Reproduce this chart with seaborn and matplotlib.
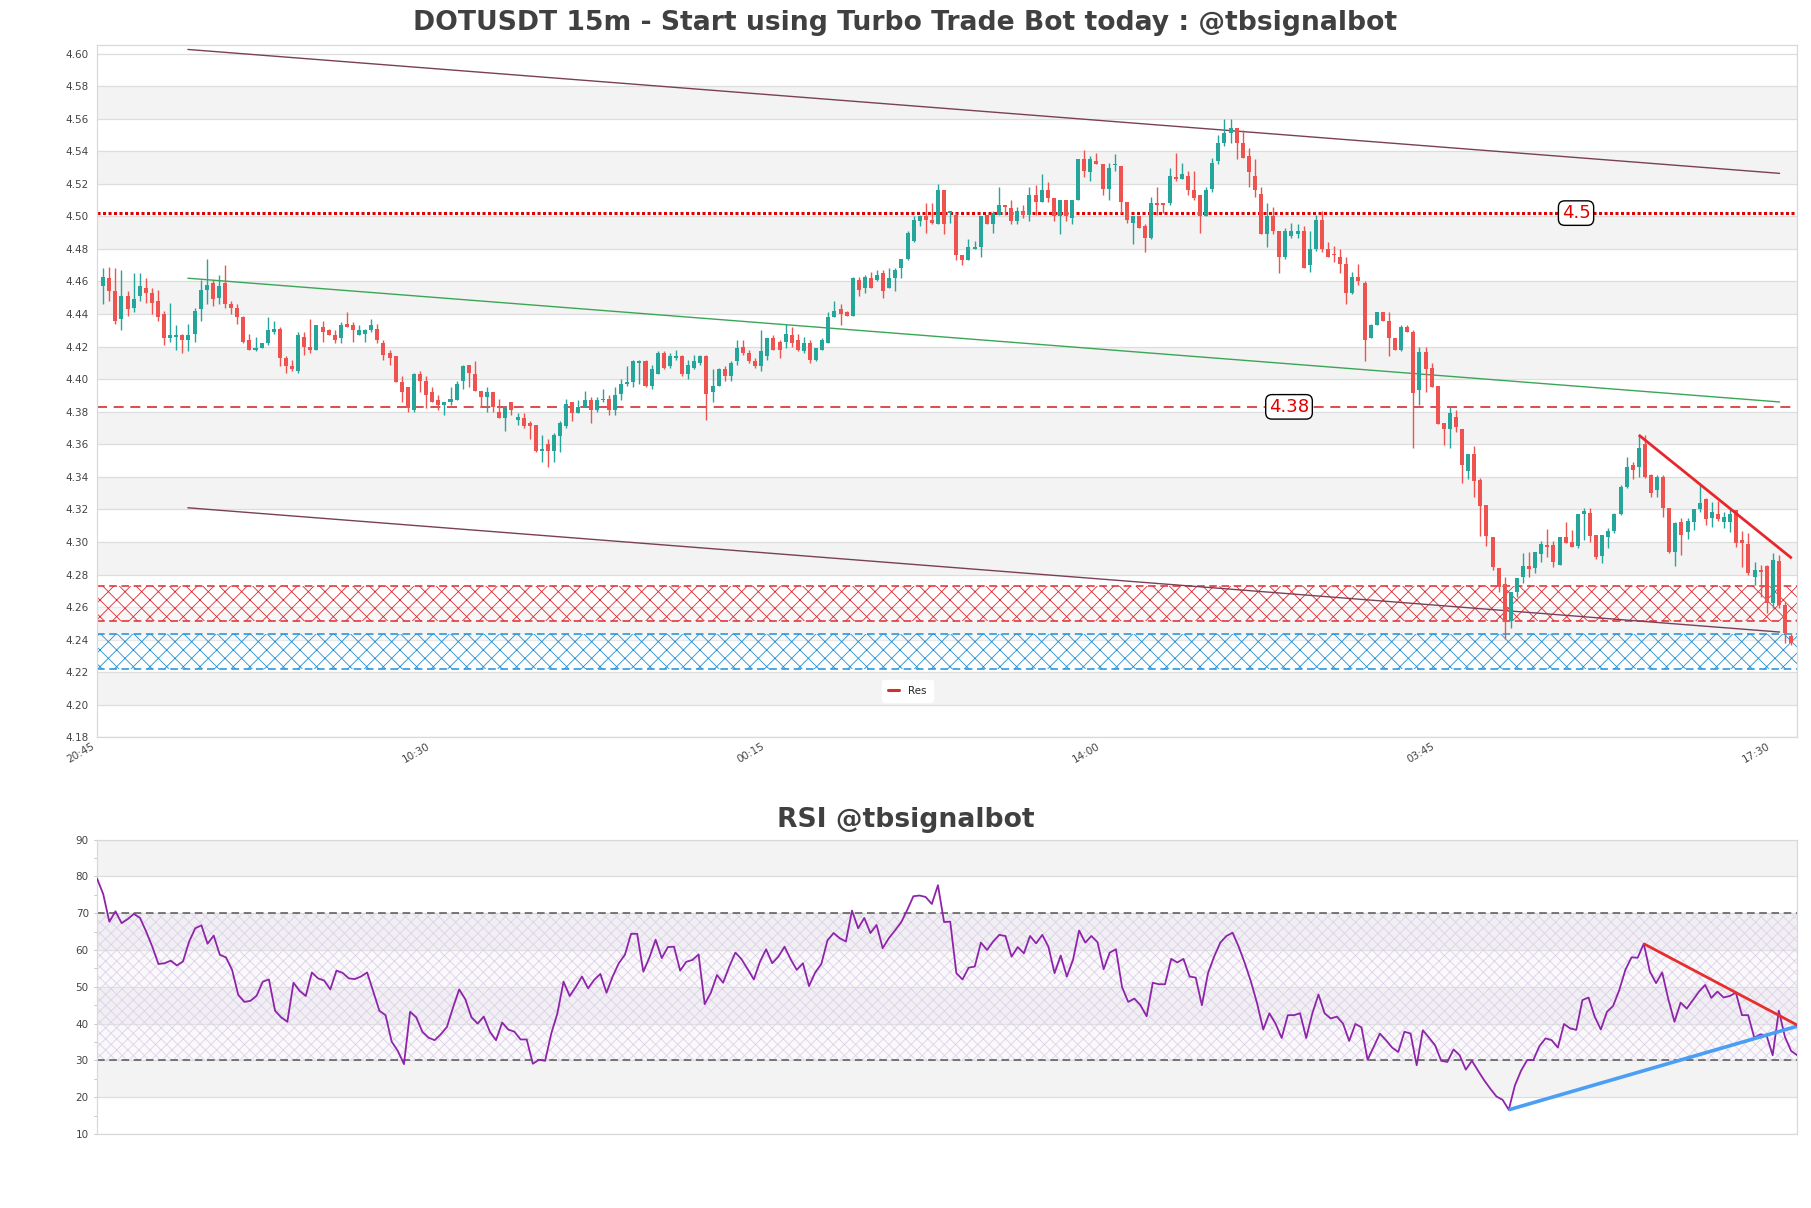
import numpy as np
import pandas as pd
import matplotlib
matplotlib.use("Agg")
import matplotlib.pyplot as plt
from matplotlib.lines import Line2D
from matplotlib.ticker import MultipleLocator
from matplotlib.transforms import ScaledTranslation
import seaborn as sns

# ---------------- data ----------------
opens = [4.457, 4.462, 4.454, 4.437, 4.451, 4.444, 4.451, 4.456, 4.453, 4.448,
         4.440, 4.425, 4.426, 4.427, 4.424, 4.428, 4.443, 4.455, 4.459, 4.450,
         4.459, 4.446, 4.444, 4.438, 4.424, 4.418, 4.419, 4.422, 4.429, 4.431,
         4.413, 4.408, 4.405, 4.426, 4.420, 4.418, 4.432, 4.430, 4.427, 4.425,
         4.434, 4.433, 4.427, 4.428, 4.430, 4.431, 4.422, 4.416, 4.414, 4.398,
         4.395, 4.381, 4.403, 4.399, 4.392, 4.387, 4.384, 4.386, 4.387, 4.399,
         4.409, 4.403, 4.393, 4.389, 4.392, 4.380, 4.376, 4.386, 4.375, 4.376,
         4.373, 4.372, 4.356, 4.360, 4.356, 4.365, 4.371, 4.386, 4.379, 4.383,
         4.387, 4.381,
         4.387, 4.388, 4.381, 4.391, 4.397, 4.398, 4.410, 4.411,
         4.396, 4.403, 4.416, 4.408, 4.413, 4.414, 4.403, 4.407, 4.410, 4.414,
         4.392, 4.396, 4.406, 4.402, 4.411, 4.420, 4.416, 4.411, 4.408, 4.414,
         4.425, 4.423, 4.423, 4.427, 4.424, 4.417, 4.422, 4.412, 4.418, 4.422,
         4.438, 4.443, 4.441, 4.439, 4.461, 4.456, 4.462, 4.461, 4.465, 4.456,
         4.462, 4.468, 4.474, 4.485, 4.497, 4.500, 4.498, 4.495, 4.516, 4.502,
         4.501, 4.476, 4.473, 4.480, 4.481, 4.501, 4.495, 4.501, 4.507, 4.505,
         4.497, 4.503, 4.501, 4.513, 4.509, 4.516, 4.511, 4.500, 4.510, 4.499,
         4.510, 4.535, 4.527, 4.534, 4.532, 4.517, 4.5315, 4.531, 4.509, 4.496,
         4.500, 4.494, 4.487, 4.508, 4.508, 4.508, 4.524, 4.523, 4.525, 4.516,
         4.513, 4.500, 4.517, 4.534, 4.545, 4.551, 4.554, 4.545, 4.537, 4.525,
         4.514, 4.489, 4.500, 4.491, 4.475, 4.488, 4.489, 4.491, 4.470, 4.480,
         4.498, 4.480, 4.477, 4.475, 4.471, 4.453, 4.463, 4.459, 4.425, 4.433,
         4.441, 4.436, 4.425, 4.418, 4.432, 4.429, 4.3933, 4.4168, 4.4066, 4.3958,
         4.3728, 4.3692, 4.3765, 4.3692, 4.3438, 4.354, 4.338, 4.3227, 4.3028, 4.2842,
         4.2742, 4.2516, 4.2695, 4.2787, 4.2852, 4.2838, 4.2926, 4.2981, 4.2981, 4.2858,
         4.3028, 4.2998, 4.2975, 4.317, 4.3176, 4.3043, 4.2914, 4.3028, 4.3067, 4.3172,
         4.3335, 4.3472, 4.3458, 4.3601, 4.3411, 4.3319, 4.3401, 4.3206, 4.294, 4.3124,
         4.3059, 4.3124, 4.32, 4.3262, 4.3145, 4.3172, 4.3124, 4.3124, 4.3196, 4.3012,
         4.2987, 4.2787, 4.2828, 4.2852, 4.2623, 4.2885, 4.2613, 4.2422]

highs = [4.468, 4.469, 4.468, 4.467, 4.454, 4.465, 4.465, 4.462, 4.456, 4.455,
         4.442, 4.447, 4.433, 4.428, 4.434, 4.444, 4.461, 4.474, 4.461, 4.464,
         4.470, 4.448, 4.446, 4.439, 4.428, 4.426, 4.422, 4.438, 4.436, 4.432,
         4.414, 4.412, 4.429, 4.429, 4.437, 4.433, 4.436, 4.431, 4.430, 4.435,
         4.441, 4.435, 4.433, 4.431, 4.437, 4.434, 4.424, 4.418, 4.414, 4.402,
         4.395, 4.404, 4.405, 4.402, 4.395, 4.390, 4.386, 4.395, 4.399, 4.409,
         4.409, 4.411, 4.393, 4.395, 4.392, 4.388, 4.383, 4.386, 4.379, 4.379,
         4.374, 4.372, 4.366, 4.363, 4.367, 4.374, 4.388, 4.386, 4.387, 4.393,
         4.389, 4.389,
         4.394, 4.390, 4.395, 4.400, 4.408, 4.412, 4.412, 4.412,
         4.409, 4.417, 4.417, 4.416, 4.418, 4.415, 4.412, 4.415, 4.415, 4.415,
         4.406, 4.407, 4.408, 4.411, 4.424, 4.424, 4.418, 4.413, 4.430, 4.425,
         4.427, 4.424, 4.434, 4.432, 4.428, 4.426, 4.424, 4.419, 4.425, 4.441,
         4.448, 4.446, 4.442, 4.463, 4.463, 4.464, 4.466, 4.467, 4.467, 4.468,
         4.468, 4.474, 4.491, 4.500, 4.501, 4.508, 4.508, 4.520, 4.516, 4.503,
         4.502, 4.476, 4.486, 4.485, 4.500, 4.501, 4.503, 4.518, 4.507, 4.510,
         4.506, 4.507, 4.518, 4.519, 4.526, 4.521, 4.511, 4.510, 4.510, 4.510,
         4.535, 4.541, 4.537, 4.539, 4.532, 4.533, 4.538, 4.531, 4.509, 4.500,
         4.500, 4.495, 4.512, 4.518, 4.508, 4.530, 4.539, 4.533, 4.528, 4.528,
         4.513, 4.518, 4.536, 4.550, 4.560, 4.560, 4.554, 4.553, 4.542, 4.535,
         4.518, 4.508, 4.506, 4.491, 4.493, 4.496, 4.495, 4.494, 4.491, 4.501,
         4.503, 4.484, 4.482, 4.480, 4.475, 4.466, 4.471, 4.460, 4.434, 4.441,
         4.441, 4.441, 4.425, 4.433, 4.433, 4.430, 4.4199, 4.4199, 4.4097, 4.3958,
         4.3728, 4.3827, 4.381, 4.3692, 4.354, 4.3589, 4.3391, 4.3227, 4.3028, 4.2842,
         4.2787, 4.2695, 4.2776, 4.2934, 4.294, 4.294, 4.3008, 4.3077, 4.3008, 4.3028,
         4.312, 4.3073, 4.3172, 4.3206, 4.3206, 4.3043, 4.3043, 4.3084, 4.3176, 4.335,
         4.352, 4.3493, 4.3657, 4.3657, 4.3417, 4.3411, 4.3411, 4.3206, 4.3124, 4.3145,
         4.3145, 4.32, 4.335, 4.3268, 4.3247, 4.3251, 4.3186, 4.32, 4.3196, 4.3069,
         4.3057, 4.2879, 4.2858, 4.2858, 4.293, 4.292, 4.2633, 4.2439]

lows = [4.446, 4.448, 4.434, 4.430, 4.439, 4.441, 4.448, 4.447, 4.440, 4.436,
        4.421, 4.423, 4.418, 4.416, 4.417, 4.423, 4.436, 4.446, 4.445, 4.446,
        4.444, 4.440, 4.434, 4.422, 4.418, 4.417, 4.419, 4.421, 4.428, 4.408,
        4.404, 4.405, 4.404, 4.415, 4.416, 4.418, 4.423, 4.427, 4.422, 4.422,
        4.432, 4.423, 4.427, 4.423, 4.429, 4.422, 4.412, 4.409, 4.398, 4.386,
        4.380, 4.380, 4.392, 4.382, 4.386, 4.381, 4.378, 4.384, 4.387, 4.394,
        4.395, 4.393, 4.383, 4.380, 4.380, 4.376, 4.368, 4.378, 4.372, 4.370,
        4.363, 4.355, 4.349, 4.346, 4.349, 4.355, 4.370, 4.374, 4.379, 4.383,
        4.373, 4.380,
        4.386, 4.378, 4.378, 4.387, 4.396, 4.395, 4.397, 4.395,
        4.394, 4.403, 4.406, 4.407, 4.412, 4.402, 4.400, 4.406, 4.409, 4.375,
        4.386, 4.396, 4.399, 4.399, 4.409, 4.415, 4.410, 4.407, 4.405, 4.412,
        4.418, 4.413, 4.419, 4.420, 4.417, 4.416, 4.410, 4.411, 4.418, 4.422,
        4.438, 4.433, 4.439, 4.439, 4.451, 4.453, 4.456, 4.460, 4.450, 4.456,
        4.454, 4.462, 4.473, 4.484, 4.494, 4.490, 4.495, 4.495, 4.489, 4.496,
        4.473, 4.470, 4.473, 4.480, 4.475, 4.495, 4.490, 4.501, 4.501, 4.495,
        4.495, 4.499, 4.497, 4.501, 4.509, 4.509, 4.497, 4.489, 4.497, 4.495,
        4.510, 4.524, 4.522, 4.532, 4.513, 4.510, 4.528, 4.502, 4.496, 4.483,
        4.493, 4.478, 4.486, 4.501, 4.502, 4.507, 4.522, 4.523, 4.513, 4.510,
        4.490, 4.500, 4.515, 4.532, 4.543, 4.545, 4.535, 4.536, 4.518, 4.512,
        4.489, 4.481, 4.489, 4.465, 4.474, 4.487, 4.487, 4.468, 4.466, 4.479,
        4.478, 4.475, 4.472, 4.465, 4.446, 4.452, 4.458, 4.411, 4.425, 4.433,
        4.436, 4.414, 4.418, 4.417, 4.429, 4.3575, 4.3841, 4.3923, 4.3954, 4.3724,
        4.3595, 4.3575, 4.3677, 4.336, 4.3386, 4.3278, 4.3038, 4.2975, 4.2828, 4.2695,
        4.2402, 4.2469, 4.2664, 4.2746, 4.2787, 4.2807, 4.2879, 4.291, 4.2848, 4.2858,
        4.2996, 4.2967, 4.2961, 4.3012, 4.2998, 4.2895, 4.2869, 4.2961, 4.3053, 4.3165,
        4.3329, 4.3387, 4.3401, 4.3391, 4.3278, 4.3278, 4.3155, 4.293, 4.2854, 4.292,
        4.3016, 4.3073, 4.3186, 4.3104, 4.3094, 4.3131, 4.3084, 4.3063, 4.2971, 4.2848,
        4.2797, 4.2736, 4.2664, 4.2562, 4.2592, 4.2592, 4.2377, 4.2367]

closes = [4.463, 4.454, 4.436, 4.451, 4.443, 4.449, 4.457, 4.453, 4.447, 4.438,
          4.425, 4.427, 4.427, 4.424, 4.427, 4.442, 4.455, 4.458, 4.449, 4.457,
          4.446, 4.444, 4.438, 4.423, 4.418, 4.419, 4.422, 4.430, 4.431, 4.413,
          4.408, 4.406, 4.427, 4.420, 4.418, 4.433, 4.429, 4.427, 4.424, 4.433,
          4.432, 4.430, 4.430, 4.430, 4.433, 4.424, 4.415, 4.413, 4.398, 4.392,
          4.382, 4.403, 4.399, 4.390, 4.386, 4.384, 4.386, 4.388, 4.397, 4.408,
          4.404, 4.393, 4.389, 4.392, 4.383, 4.376, 4.383, 4.381, 4.377, 4.371,
          4.371, 4.356, 4.357, 4.356, 4.366, 4.373, 4.385, 4.379, 4.383, 4.387,
          4.381, 4.387,
          4.388, 4.381, 4.390, 4.397, 4.398, 4.411, 4.411, 4.396,
          4.406, 4.416, 4.407, 4.414, 4.414, 4.403, 4.409, 4.411, 4.414, 4.391,
          4.396, 4.406, 4.402, 4.410, 4.419, 4.416, 4.411, 4.408, 4.417, 4.425,
          4.418, 4.418, 4.428, 4.422, 4.418, 4.422, 4.412, 4.419, 4.424, 4.438,
          4.442, 4.440, 4.439, 4.462, 4.455, 4.463, 4.456, 4.464, 4.454, 4.462,
          4.467, 4.474, 4.490, 4.498, 4.500, 4.498, 4.496, 4.516, 4.495, 4.503,
          4.476, 4.473, 4.481, 4.481, 4.500, 4.495, 4.502, 4.507, 4.506, 4.497,
          4.503, 4.501, 4.513, 4.509, 4.516, 4.511, 4.500, 4.510, 4.500, 4.510,
          4.535, 4.528, 4.535, 4.532, 4.517, 4.530, 4.532, 4.509, 4.498, 4.500,
          4.493, 4.487, 4.508, 4.507, 4.507, 4.525, 4.523, 4.526, 4.516, 4.511,
          4.500, 4.516, 4.533, 4.545, 4.551, 4.554, 4.545, 4.536, 4.527, 4.516,
          4.489, 4.500, 4.491, 4.475, 4.491, 4.491, 4.491, 4.468, 4.480, 4.498,
          4.480, 4.475, 4.476, 4.471, 4.453, 4.463, 4.460, 4.424, 4.433, 4.441,
          4.436, 4.425, 4.418, 4.432, 4.429, 4.3917, 4.4168, 4.406, 4.3954, 4.3724,
          4.3692, 4.379, 4.3708, 4.3472, 4.354, 4.3376, 4.3221, 4.3038, 4.2844, 4.2725,
          4.2516, 4.2695, 4.2776, 4.2852, 4.2836, 4.294, 4.2987, 4.2967, 4.2879, 4.3028,
          4.2996, 4.2967, 4.3172, 4.319, 4.3038, 4.2905, 4.3043, 4.3067, 4.3172, 4.3335,
          4.3458, 4.3442, 4.3575, 4.3397, 4.3303, 4.3401, 4.3206, 4.294, 4.3114, 4.3043,
          4.3131, 4.32, 4.3237, 4.3139, 4.3186, 4.3139, 4.3151, 4.3172, 4.2995, 4.2995,
          4.2807, 4.2828, 4.2817, 4.2623, 4.2889, 4.2613, 4.2439, 4.2377]

rsi_values = [79.4, 75.2, 67.7, 70.5, 67.3, 68.4, 69.8, 68.7, 65.0, 60.9,
              56.2, 56.4, 57.1, 55.8, 56.9, 62.3, 65.9, 66.7, 61.7, 63.9,
              58.7, 58.0, 54.6, 47.8, 45.9, 46.2, 47.6, 51.4, 52.0, 43.5,
              41.7, 40.5, 51.1, 48.9, 47.5, 53.9, 52.3, 51.7, 49.3, 54.4,
              53.8, 52.3, 52.1, 52.8, 53.9, 48.7, 43.5, 42.3, 35.1, 32.6,
              29.0, 43.2, 41.7, 37.8, 36.2, 35.5, 37.1, 39.1, 44.4, 49.3,
              46.6, 41.7, 40.0, 41.9, 37.8, 35.5, 40.3, 38.4, 37.8, 35.7,
              35.7, 29.1, 30.2, 29.9, 37.3, 42.8, 51.4, 47.5, 50.0, 52.8,
              49.6, 51.9, 53.5, 48.4, 52.8, 56.4, 58.7, 64.4, 64.4, 54.1,
              58.0, 62.8, 57.8, 60.8, 60.9, 54.4, 56.8, 57.3, 58.8, 45.3,
              48.4, 53.2, 51.1, 55.5, 59.3, 57.5, 54.8, 52.0, 56.8, 60.2,
              56.4, 58.2, 60.9, 57.5, 54.6, 56.4, 50.2, 53.9, 56.2, 62.6,
              64.6, 63.2, 62.3, 70.7, 65.9, 68.7, 64.6, 66.8, 60.5, 63.2,
              65.3, 67.5,
              70.9, 74.6, 74.8, 74.4, 72.5, 77.6, 67.6, 67.7, 53.7, 52.0,
              55.2, 55.5, 62.0, 60.0, 62.3, 64.1, 63.8, 58.2, 60.8, 59.1,
              63.8, 61.8, 64.1, 60.9, 53.7, 58.5, 52.8, 57.3, 65.3, 62.0,
              63.8, 62.1, 54.8, 59.3, 60.2, 49.9, 45.9, 46.8, 45.0, 42.0,
              51.1, 50.7, 50.7, 57.6, 56.6, 57.6, 52.8, 52.5, 45.0, 53.7,
              58.2, 62.0, 63.8, 64.7, 60.9, 56.4, 51.4, 45.5, 38.4, 42.8,
              40.0, 36.1, 42.3, 42.3, 42.8, 36.1, 42.8, 47.9, 42.8, 41.4,
              41.9, 40.0, 35.3, 39.9, 39.0, 30.2, 33.7, 37.3, 35.5, 33.5,
              32.3, 37.8, 37.3, 28.7, 38.2, 36.2, 34.1, 29.9, 29.6, 33.0,
              31.4, 27.5, 29.9, 27.2, 24.6, 22.3, 20.2, 19.3, 16.6, 23.2,
              27.2, 30.1, 30.1, 33.9, 36.0, 35.5, 33.5, 39.9, 38.7, 38.3,
              46.4, 47.1, 41.9, 38.4, 43.2, 44.8, 49.1, 54.6, 58.0, 57.9,
              61.7, 54.1, 51.0, 53.9, 46.6, 40.5, 45.7, 44.1, 46.4, 48.7,
              50.5, 47.0, 48.7, 47.1, 47.5, 48.4, 42.3, 42.3, 36.2, 37.1,
              36.8, 31.4, 43.5, 36.4, 32.6, 31.4]

tick_idx = [0, 55, 110, 165, 220, 275]
tick_labels = ["20:45", "10:30", "00:15", "14:00", "03:45", "17:30"]

level_res = 4.502          # dotted resistance
level_mid = 4.383          # dashed level
red_zone = (4.2513, 4.2731)
blue_zone = (4.2217, 4.2433)
chan_x = [13.9, 275.1]
chan_upper = [4.6025, 4.5264]
chan_mid = [4.462, 4.386]
chan_lower = [4.321, 4.2447]
down_tl_x = [252, 277.1]
down_tl_y = [4.3657, 4.290]
rsi_red_end = 39.6
rsi_blue_end = 39.3

# ---------------- build ----------------
n = min(len(opens), len(highs), len(lows), len(closes))
df = pd.DataFrame({"x": np.arange(n), "open": opens[:n], "high": highs[:n],
                   "low": lows[:n], "close": closes[:n]})
GREEN, RED = "#26a69a", "#ef5350"
df["color"] = np.where(df["close"] >= df["open"], GREEN, RED)

sns.set_theme(style="white")
plt.rcParams["font.family"] = ["DejaVu Sans"]
plt.rcParams["hatch.linewidth"] = 0.6

fig = plt.figure(figsize=(18.11, 12.08), dpi=100)
ax = fig.add_axes([0.0536, 0.3896, 0.9388, 0.5735])
axr = fig.add_axes([0.0536, 0.0612, 0.9388, 0.2438])

# ---- main price axes ----
ax.set_facecolor("white")
for lo in np.arange(4.20, 4.57, 0.04):
    ax.axhspan(lo, lo + 0.02, color="#f3f3f3", zorder=0, lw=0)
yt = np.round(np.arange(4.18, 4.601, 0.02), 2)
ax.set_yticks(yt)
ax.set_yticklabels([f"{v:.2f}" for v in yt])
ax.yaxis.grid(True, color="#dddddd", lw=0.9, zorder=0.5)
ax.xaxis.grid(False)
ax.set_ylim(4.18, 4.6055)
ax.set_xlim(-1, n)

# zones
for (lo, hi), col in [(red_zone, "#e0282d"), (blue_zone, "#1e8fd6")]:
    ax.fill_between([-1, n], lo, hi, facecolor="white", alpha=0.35, lw=0, zorder=1)
    ax.fill_between([-1, n], lo, hi, facecolor="none", edgecolor=col,
                    hatch="xx", lw=0, zorder=1.2)
    ax.hlines([lo, hi], -1, n, colors=col, linestyles=(0, (5, 3)), lw=1.1, zorder=1.3)

# levels
ax.axhline(level_res, color="#e00000", ls=(0, (1, 0.8)), lw=2.2, zorder=2)
ax.axhline(level_mid, color="#d32f2f", ls=(0, (6, 4)), lw=1.2, zorder=2)

# channel lines
ax.plot(chan_x, chan_upper, color="#7b3f57", lw=1.0, zorder=2)
ax.plot(chan_x, chan_lower, color="#7b3f57", lw=1.0, zorder=2)
ax.plot(chan_x, chan_mid, color="#3aa655", lw=1.0, zorder=2)

# candles
ax.vlines(df["x"], df["low"], df["high"], colors=df["color"], lw=1.0, zorder=3)
body = np.maximum((df["close"] - df["open"]).abs(), 0.0005)
ax.bar(df["x"], body, bottom=np.minimum(df["open"], df["close"]), width=0.66,
       color=df["color"], lw=0, zorder=4)

# descending trend line
ax.plot(down_tl_x, down_tl_y, color="#e8262b", lw=2.0, zorder=5,
        solid_capstyle="butt")

# labels
box = dict(boxstyle="round,pad=0.18,rounding_size=0.35", fc="white", ec="black", lw=1)
ax.text(241.7, level_res, "4.5", color="#e00000", fontsize=13, ha="center",
        va="center", bbox=box, zorder=6)
ax.text(194.6, level_mid, "4.38", color="#e00000", fontsize=13, ha="center",
        va="center", bbox=box, zorder=6)

ax.set_xticks(tick_idx)
ax.set_xticklabels(tick_labels, rotation=30, ha="right")
ax.tick_params(axis="both", labelsize=7.5, colors="#444444", length=2.5,
               width=0.6, color="#bbbbbb")
shift = ScaledTranslation(-0.07, 0.05, fig.dpi_scale_trans)
for lab in ax.get_xticklabels():
    lab.set_transform(lab.get_transform() + shift)
for s in ax.spines.values():
    s.set_color("#d9d9d9")
    s.set_linewidth(0.9)

leg = ax.legend(handles=[Line2D([0], [0], color="#d32f2f", lw=2.2)], labels=["Res"],
                loc="lower center", bbox_to_anchor=(0.4766, 0.043), fontsize=7.5,
                frameon=True, facecolor="white", edgecolor="white", framealpha=1,
                handlelength=1.0, handletextpad=0.9, borderpad=0.6)
leg.set_zorder(7)

fig.text(0.5, 0.981, "DOTUSDT 15m - Start using Turbo Trade Bot today : @tbsignalbot",
         fontsize=19.2, fontweight="bold", color="#404040", ha="center", va="center")

# ---- RSI axes ----
m = len(rsi_values)
rdf = pd.DataFrame({"i": np.arange(m), "rsi": rsi_values})
axr.set_facecolor("white")
for lo in [20, 40, 60, 80]:
    axr.axhspan(lo, lo + 10, color="#f3f3f3", zorder=0, lw=0)
axr.fill_between([0, m - 1], 30, 70, facecolor="#ece6f3", alpha=0.25, lw=0, zorder=0.6)
axr.fill_between([0, m - 1], 30, 70, facecolor="none", edgecolor="#dcd2e8",
                 hatch="xxx", lw=0, zorder=0.7)
axr.yaxis.grid(True, color="#dddddd", lw=0.9, zorder=0.5)
axr.xaxis.grid(False)
axr.axhline(70, color="#555555", ls=(0, (5, 3)), lw=1.1, zorder=2)
axr.axhline(30, color="#555555", ls=(0, (5, 3)), lw=1.1, zorder=2)

sns.lineplot(data=rdf, x="i", y="rsi", ax=axr, color="#8e24aa", lw=1.3, zorder=3)

imin = int(np.argmin(rsi_values))
ipk = int(np.argmax(rsi_values[m - 40:])) + (m - 40)
axr.plot([imin, m - 1], [rsi_values[imin], rsi_blue_end], color="#4a9ff5", lw=2.6,
         zorder=4, solid_capstyle="butt")
axr.plot([ipk, m - 1], [rsi_values[ipk], rsi_red_end], color="#e62e2e", lw=2.0,
         zorder=4, solid_capstyle="butt")

axr.set_xlim(0, m - 1)
axr.set_ylim(10, 90)
axr.set_yticks(np.arange(10, 91, 10))
axr.yaxis.set_minor_locator(MultipleLocator(5))
axr.set_xticks([])
axr.set_xlabel("")
axr.set_ylabel("")
axr.tick_params(axis="y", which="both", left=True, labelsize=7.5, colors="#444444",
                length=2.5, width=0.6, color="#bbbbbb")
axr.tick_params(axis="y", which="minor", length=2)
for s in axr.spines.values():
    s.set_color("#d9d9d9")
    s.set_linewidth(0.9)
fig.text(0.5, 0.321, "RSI @tbsignalbot", fontsize=19.2, fontweight="bold",
         color="#404040", ha="center", va="center")

fig.savefig("out.png", dpi=100)
